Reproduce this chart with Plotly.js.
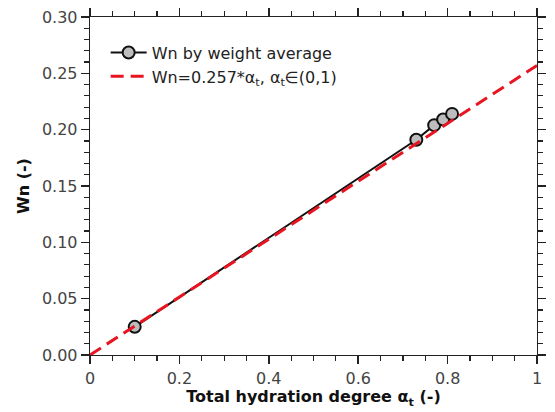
<!DOCTYPE html>
<html>
<head>
<meta charset="utf-8">
<script src="https://cdn.plot.ly/plotly-3.0.1.min.js"></script>
<style>html,body{margin:0;padding:0;background:#fff;}#chart{width:555px;height:412px;}</style>
</head>
<body>
<div id="chart"></div>
<script>
var alphaT = [0.10, 0.73, 0.77, 0.79, 0.81];
var wnAvg = [0.025, 0.191, 0.204, 0.209, 0.214];
var fitSlope = 0.257;
var fitX = [0, 1];
var fitY = fitX.map(function (v) { return fitSlope * v; });
var xRange = [0, 1];
var yRange = [0, 0.30];
var xMajorStep = 0.2, xMinorStep = 0.05;
var yMajorStep = 0.05, yMinorStep = 0.01;

var traces = [
  {
    x: alphaT, y: wnAvg, mode: 'lines+markers', type: 'scatter',
    name: 'Wn by weight average',
    line: {color: '#111111', width: 2},
    marker: {size: 12, color: '#bdbdbd', line: {color: '#111111', width: 2}}
  },
  {
    x: fitX, y: fitY, mode: 'lines', type: 'scatter',
    name: 'Wn=0.257*α<sub>t</sub>, α<sub>t</sub>∈(0,1)',
    line: {color: '#e8141f', width: 3, dash: '13px,7px'}
  }
];

var tickFont = {family: 'DejaVu Sans', size: 16, color: '#444'};
function axisBase() {
  return {
    showgrid: false, zeroline: false, showline: true, linecolor: '#222', linewidth: 1.3,
    mirror: 'ticks', ticks: 'outside', ticklen: 8, tickwidth: 1.5, tickcolor: '#222222', tickfont: tickFont
  };
}

var layout = {
  width: 555, height: 412,
  margin: {l: 90, r: 18, t: 17, b: 57},
  paper_bgcolor: '#fff', plot_bgcolor: '#fff',
  showlegend: true,
  legend: {x: 0.035, y: 0.945, xanchor: 'left', yanchor: 'top', bgcolor: 'rgba(0,0,0,0)',
    font: {family: 'DejaVu Sans', size: 16, color: '#222'}, tracegroupgap: 0, itemwidth: 36},
  xaxis: Object.assign(axisBase(), {
    range: xRange, tickmode: 'linear', tick0: 0, dtick: xMajorStep,
    minor: {dtick: xMinorStep, ticks: 'outside', ticklen: 5, tickwidth: 1.2, tickcolor: '#222222'},
    title: {text: 'Total hydration degree α<sub>t</sub> (-)', standoff: 4,
      font: {family: 'DejaVu Sans', size: 16, color: '#111', weight: 'bold'}}
  }),
  yaxis: Object.assign(axisBase(), {
    range: yRange, tickmode: 'linear', tick0: 0, dtick: yMajorStep, tickformat: '.2f',
    minor: {dtick: yMinorStep, ticks: 'outside', ticklen: 5, tickwidth: 1.2, tickcolor: '#222222'},
    title: {text: 'Wn (-)', standoff: 8,
      font: {family: 'DejaVu Sans', size: 16, color: '#111', weight: 'bold'}}
  })
};

Plotly.newPlot('chart', traces, layout, {displayModeBar: false, staticPlot: true});
</script>
</body>
</html>
